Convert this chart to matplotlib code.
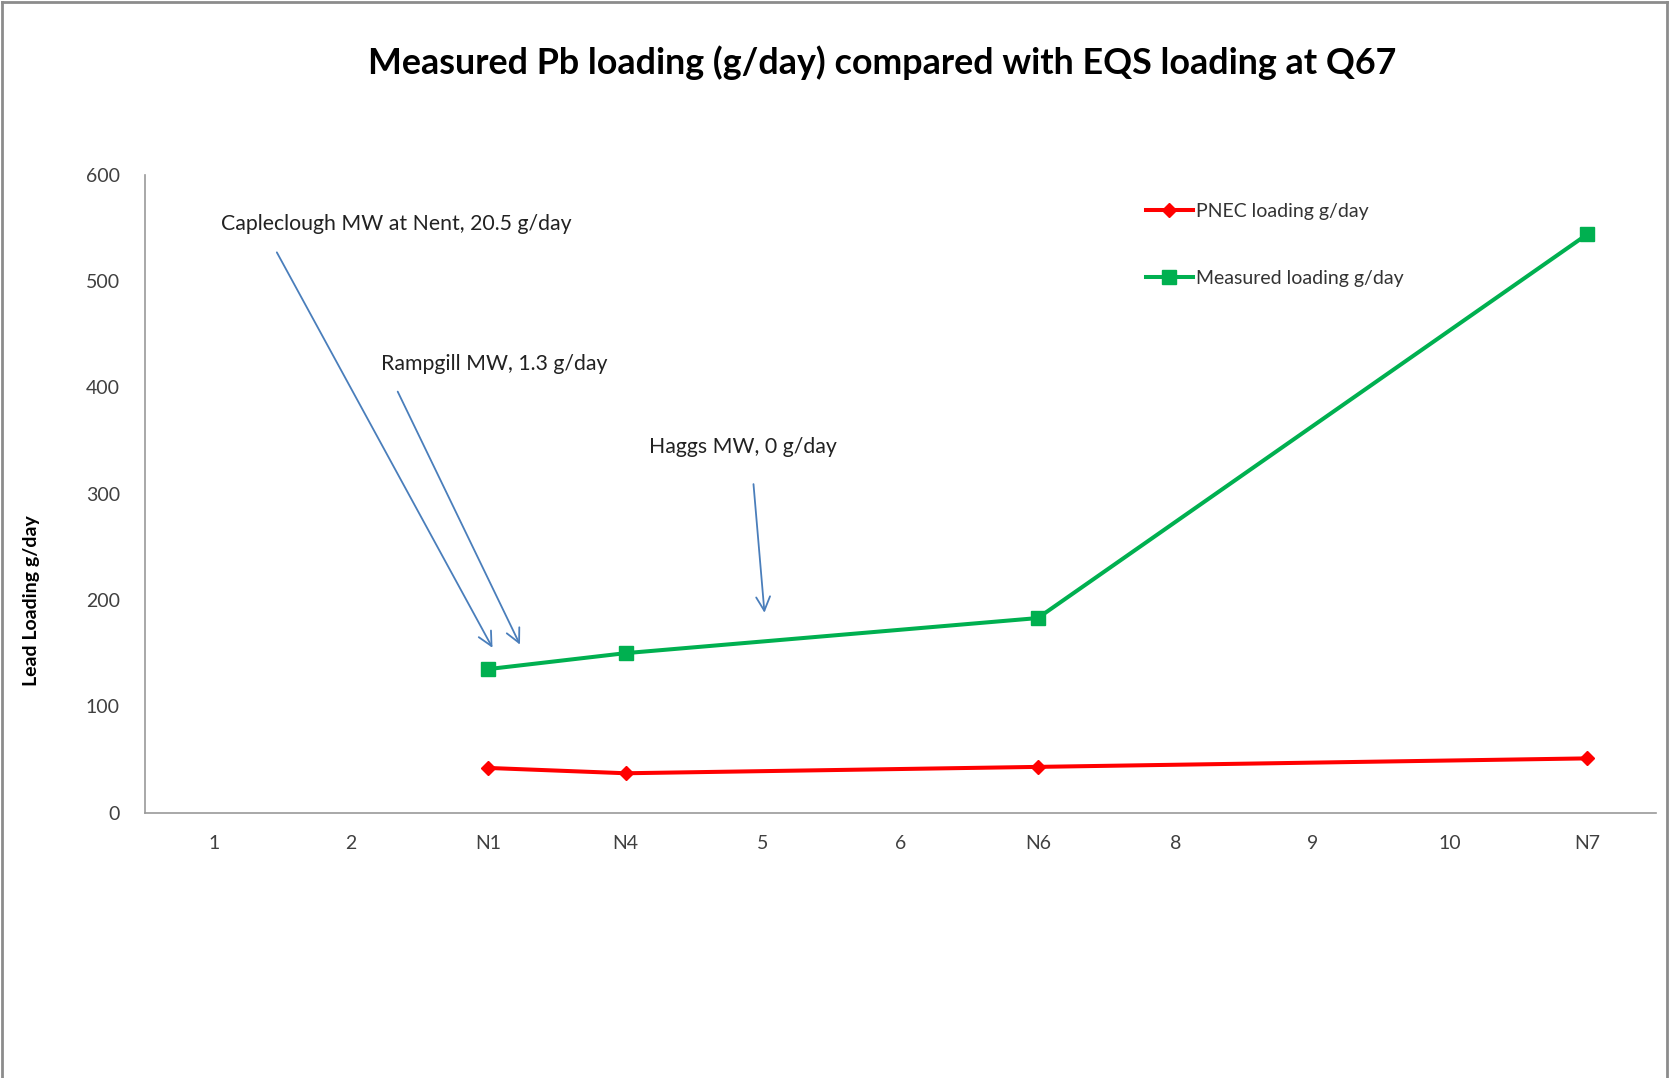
import matplotlib.pyplot as plt
from matplotlib.lines import Line2D
import numpy as np

categories = ["1", "2", "N1", "N4", "5", "6", "N6", "8", "9", "10", "N7"]
pnec = [np.nan, np.nan, 42, 37, np.nan, np.nan, 43, np.nan, np.nan, np.nan, 51]
measured = [np.nan, np.nan, 135, 150, np.nan, np.nan, 183, np.nan, np.nan, np.nan, 544]

notes = ["Capleclough MW at Nent, 20.5 g/day", "Rampgill MW, 1.3 g/day", "Haggs MW, 0 g/day"]
note_text_pos = [(0.05, 554), (1.22, 422), (3.17, 344)]
arrow_start = [(0.46, 527), (1.34, 396), (3.93, 309)]
arrow_end = [(2.03, 155), (2.23, 158), (4.01, 188)]

plt.rcParams['font.family'] = ['Lato', 'DejaVu Sans']

fig = plt.figure(figsize=(16.7, 10.78), dpi=100)
ax = fig.add_axes([0.0868, 0.2462, 0.9048, 0.5917])

x = np.arange(len(categories))

def plot_series(vals, color, marker, ms, label):
    v = np.array(vals, dtype=float)
    ok = ~np.isnan(v)
    ax.plot(x[ok], v[ok], color=color, lw=2.9, marker=marker, ms=ms, label=label)

plot_series(pnec, "#FF0000", "D", 7.5, "PNEC loading g/day")
plot_series(measured, "#00B050", "s", 9.5, "Measured loading g/day")

for txt, tp, s, e in zip(notes, note_text_pos, arrow_start, arrow_end):
    ax.text(tp[0], tp[1], txt, fontsize=15.3, color="#222222", va="center", ha="left")
    ax.annotate("", xy=e, xytext=s,
                arrowprops=dict(arrowstyle="->", color="#4A7EBB", lw=1.3,
                                mutation_scale=25, shrinkA=0, shrinkB=0))

ax.set_xlim(-0.5, len(categories) - 0.5)
ax.set_ylim(0, 600)
ax.set_yticks(range(0, 601, 100))
ax.set_xticks(x)
ax.set_xticklabels(categories)
ax.tick_params(length=0, labelsize=14, colors="#404040", pad=16)
ax.tick_params(axis="y", pad=18)
for side in ["top", "right"]:
    ax.spines[side].set_visible(False)
for side in ["left", "bottom"]:
    ax.spines[side].set_color("#9a9a9a")
    ax.spines[side].set_linewidth(1.2)

leg = ax.legend(loc="upper left", bbox_to_anchor=(0.651, 0.983), frameon=False,
                fontsize=14, labelspacing=2.55, handlelength=2.4, handletextpad=0.15,
                labelcolor="#333333")

fig.text(0.528, 0.942, "Measured Pb loading (g/day) compared with EQS loading at Q67",
         ha="center", va="center", fontsize=25.8, fontweight="bold", color="black")
fig.text(0.019, 0.443, "Lead Loading g/day", rotation=90, ha="center", va="center",
         fontsize=14, fontweight="bold", color="black")

# chart border
for xs, ys in [([0.001, 0.001], [0, 0.998]), ([0.001, 0.998], [0.998, 0.998]), ([0.998, 0.998], [0, 0.998])]:
    fig.add_artist(Line2D(xs, ys, color="#8c8c8c", lw=2, transform=fig.transFigure))

fig.savefig("out.png", dpi=100)
